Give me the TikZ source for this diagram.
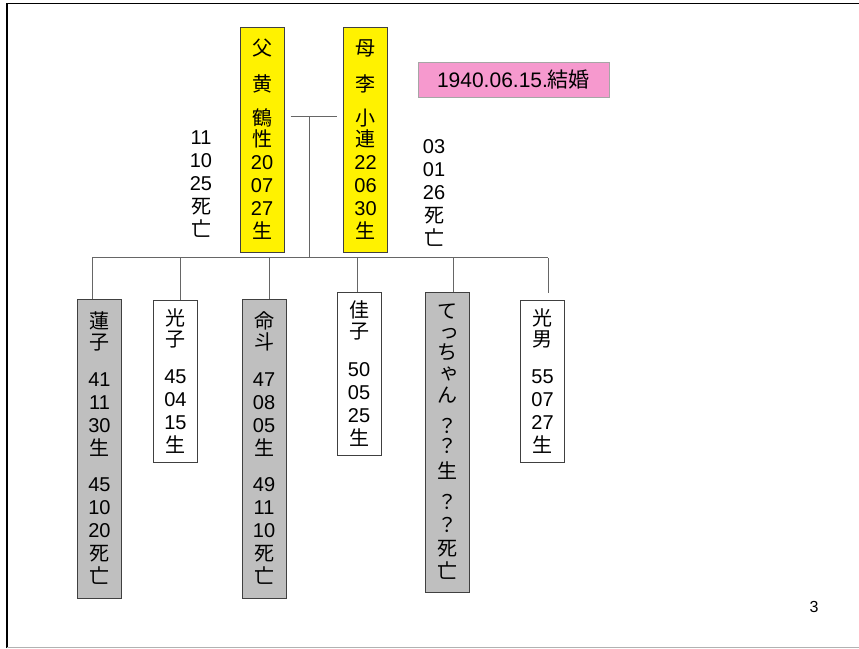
\documentclass[tikz,border=0pt]{standalone}
\usepackage{fontspec}
\setmainfont{Liberation Sans}
\newfontfamily\jpfont{Noto Sans CJK JP}
\newcommand\J[1]{{\jpfont #1}}
\usetikzlibrary{calc}
\definecolor{wedpink}{RGB}{246,153,206}

\begin{document}
\begin{tikzpicture}[x=1pt,y=-1pt]
    \tikzstyle{person}=[draw=black!75,line width=1pt,minimum width=44pt,inner sep=0pt,align=center,font=\fontsize{20}{23}\selectfont]
    \tikzstyle{parent}=[person,fill=yellow,minimum height=225pt]
    \tikzstyle{dead child}=[person,fill=black!25]
    \tikzstyle{child}=[person,fill=white]
    \tikzstyle{note}=[align=center,font=\fontsize{20}{23}\selectfont]
    \tikzstyle{line}=[black!60,line width=0.9pt]
    \useasboundingbox (0,0) rectangle (859,648);
    % frame
    \draw[line width=1.6pt] (7,648) -- (7,3.5) -- (859,3.5);
    \draw[black!30,line width=1pt] (7,647) -- (859,647);
    % parents
    \node[parent] (P_1) at (262,139.5) {\J{父}\\[13pt]\J{黄}\\[11pt]\J{鶴}\\[-2pt]\J{性}\\20\\07\\27\\\J{生}};
    \node[parent] (P_2) at (365.5,139.5) {\J{母}\\[13pt]\J{李}\\[11pt]\J{小}\\[-2pt]\J{連}\\22\\06\\30\\\J{生}};
    \node[draw=black!35,fill=wedpink,minimum width=191pt,minimum height=35pt,font=\fontsize{21}{24}\selectfont] (W) at (513.5,79.5) {1940.06.15.\J{結婚}};
    \node[note] (D_1) at (201,184) {11\\10\\25\\\J{死}\\\J{亡}};
    \node[note] (D_2) at (434,193) {03\\01\\26\\\J{死}\\\J{亡}};
    % children
    \node[dead child,minimum height=299pt] (C_1) at (99.5,448.5) {\J{蓮}\\[-2pt]\J{子}\\[14pt]41\\11\\30\\\J{生}\\[13pt]45\\10\\20\\\J{死}\\\J{亡}};
    \node[child,minimum height=162pt] (C_2) at (175.5,381) {\J{光}\\[-2pt]\J{子}\\[14pt]45\\04\\15\\\J{生}};
    \node[dead child,minimum height=299pt] (C_3) at (264,448.5) {\J{命}\\[-2pt]\J{斗}\\[14pt]47\\08\\05\\\J{生}\\[13pt]49\\11\\10\\\J{死}\\\J{亡}};
    \node[child,minimum height=163pt] (C_4) at (359,373.5) {\J{佳}\\[-2pt]\J{子}\\[15pt]50\\05\\25\\\J{生}};
    \node[dead child,minimum height=300pt] (C_5) at (447,442) {\J{て}\\[-3pt]\hspace*{4pt}\J{っ}\\[-2pt]\J{ち}\\[-3pt]\hspace*{4pt}\J{ゃ}\\\J{ん}\\[8pt]\J{？}\\[-3pt]\J{？}\\[2pt]\J{生}\\[8pt]\J{？}\\\J{？}\\\J{死}\\\J{亡}};
    \node[child,minimum height=162pt] (C_6) at (542.5,381) {\J{光}\\[-2pt]\J{男}\\[14pt]55\\07\\27\\\J{生}};
    \node[font=\fontsize{16}{18}\selectfont] (pg) at (814,607) {3};
    % lines
    \coordinate (wed) at (309,116);
    \coordinate (bus) at (309,257.5);
    \draw[line] ($(P_1.east |- wed)+(6,0)$) -- ($(P_2.west |- wed)+(-6,0)$);
    \draw[line] (wed) -- (bus);
    \foreach \i/\dx/\gap in {1/-7.5/0,2/5/0,3/5/0,4/-2/0,5/6/0,6/5.5/7} {
        \coordinate (T_\i) at ($(C_\i.north)+(\dx,-\gap)$);
        \draw[line] (T_\i) -- (T_\i |- bus);
    }
    \draw[line] (T_1 |- bus) -- (T_6 |- bus);
\end{tikzpicture}
\end{document}
